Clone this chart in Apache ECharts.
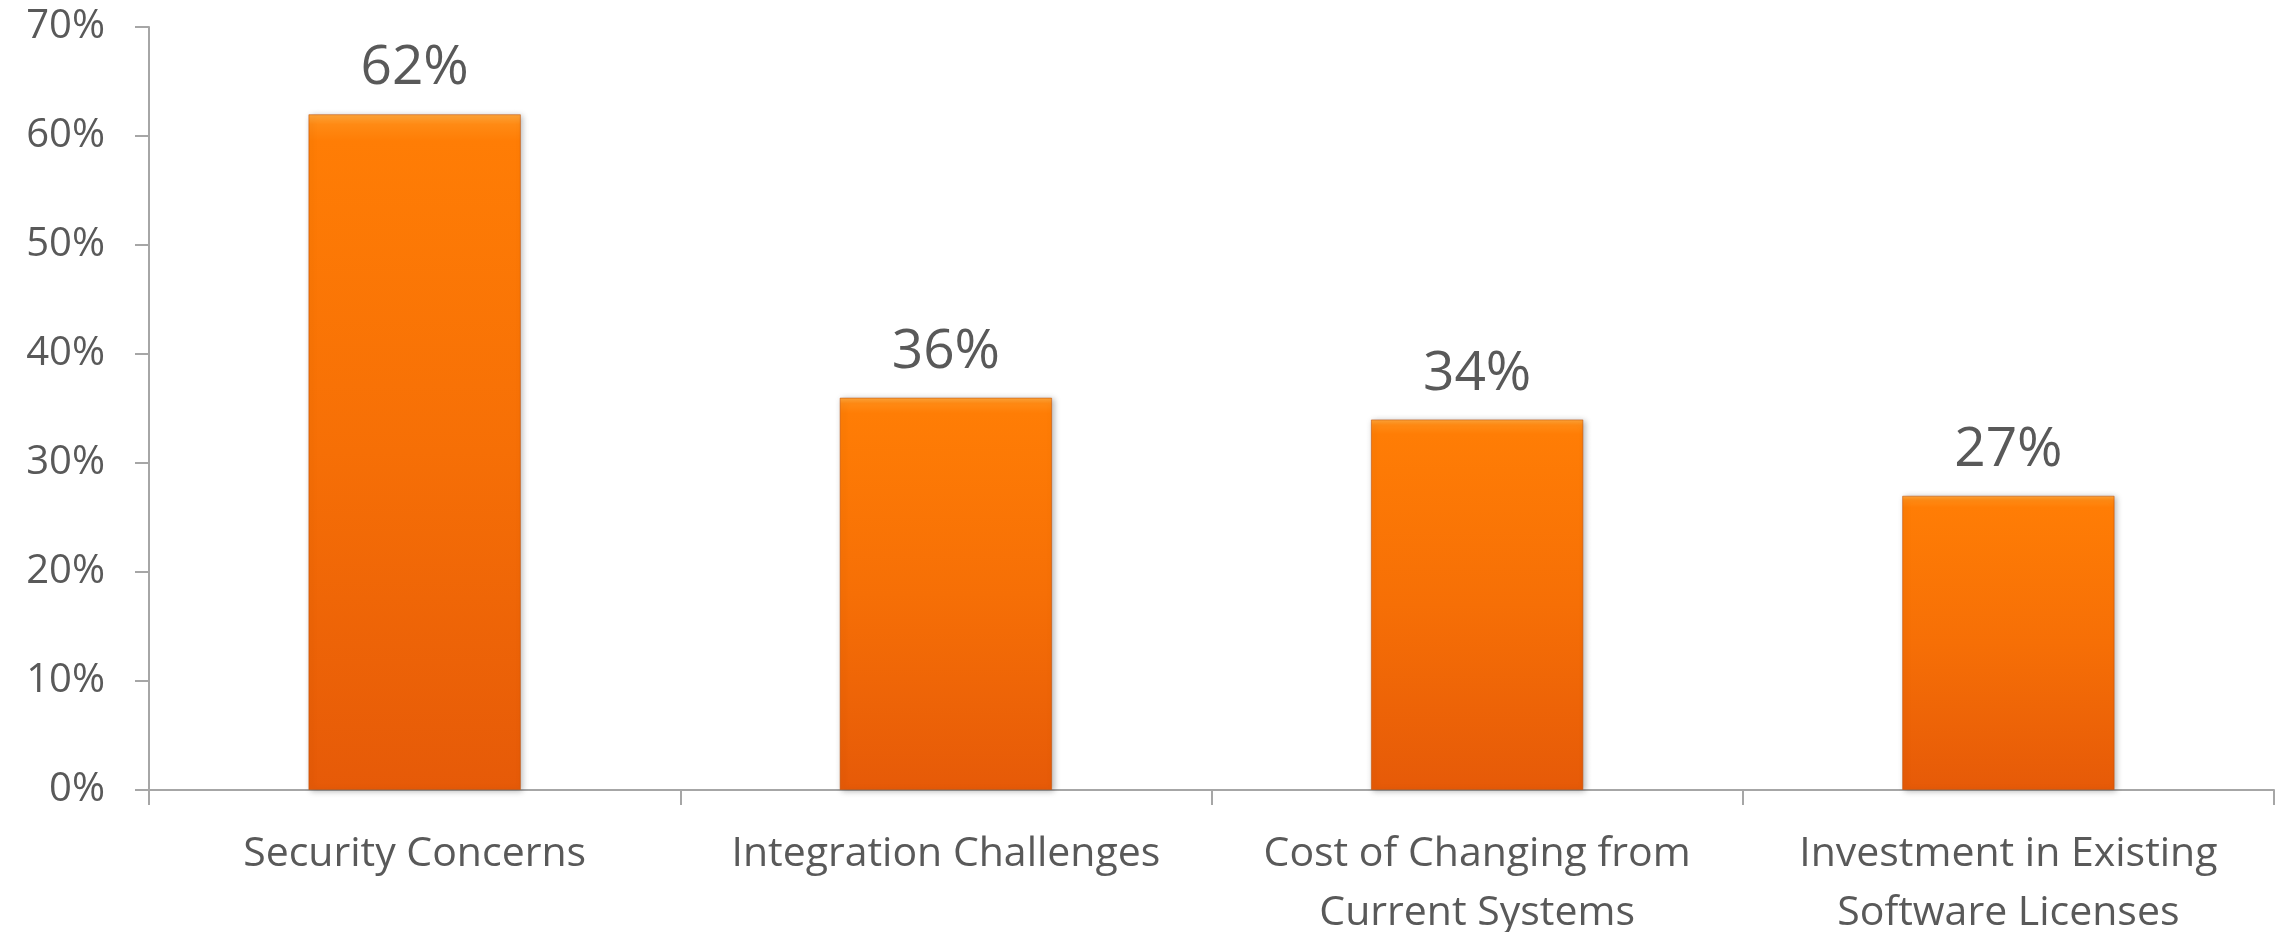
<!DOCTYPE html>
<html>
<head>
<meta charset="utf-8">
<title>Barriers to adoption</title>
<script src="https://cdn.jsdelivr.net/npm/echarts@6/dist/echarts.min.js"></script>
<style>
  html, body { margin: 0; padding: 0; background: #ffffff; }
  #chart { width: 2277px; height: 932px; }
</style>
</head>
<body>
<div id="chart"></div>
<script>
// Categories (line breaks as shown under the axis)
const categories = [
  'Security Concerns',
  'Integration Challenges',
  'Cost of Changing from\nCurrent Systems',
  'Investment in Existing\nSoftware Licenses'
];
// Share of respondents, in percent
const values = [62, 36, 34, 27];
// Value axis range
const yMin = 0;
const yMax = 70;
const yStep = 10;

const textGray = '#595959';
const axisGray = '#a6a6a6';
const fontFamily = '"Open Sans", "Noto Sans", sans-serif';

const chart = echarts.init(document.getElementById('chart'), null, { renderer: 'canvas' });

chart.setOption({
  backgroundColor: '#ffffff',
  animation: false,
  grid: {
    left: 149, right: 3, top: 27, bottom: 142,
    containLabel: false,
    outerBoundsMode: 'none'
  },
  xAxis: {
    type: 'category',
    data: categories,
    boundaryGap: true,
    axisLine: { show: true, lineStyle: { color: axisGray, width: 2 } },
    axisTick: { show: true, alignWithLabel: false, length: 15, lineStyle: { color: axisGray, width: 2 } },
    axisLabel: {
      color: textGray,
      fontFamily: fontFamily,
      fontSize: 41,
      lineHeight: 59,
      margin: 35,
      interval: 0
    },
    splitLine: { show: false }
  },
  yAxis: {
    type: 'value',
    min: yMin,
    max: yMax,
    interval: yStep,
    axisLine: { show: true, lineStyle: { color: axisGray, width: 2 } },
    axisTick: { show: true, length: 14, lineStyle: { color: axisGray, width: 2 } },
    axisLabel: {
      color: textGray,
      fontFamily: fontFamily,
      fontSize: 40,
      margin: 44,
      formatter: '{value}%'
    },
    splitLine: { show: false }
  },
  series: [{
    type: 'bar',
    data: values,
    barWidth: '40%',
    itemStyle: {
      color: new echarts.graphic.LinearGradient(0, 0, 0, 1, [
        { offset: 0, color: '#ffa63a' },
        { offset: 0.015, color: '#ff8a14' },
        { offset: 0.04, color: '#ff7d05' },
        { offset: 0.5, color: '#f66f06' },
        { offset: 1, color: '#e65a08' }
      ]),
      borderColor: 'rgba(190,80,10,0.55)',
      borderWidth: 1,
      shadowColor: 'rgba(0,0,0,0.28)',
      shadowBlur: 6,
      shadowOffsetX: 2,
      shadowOffsetY: 1
    },
    label: {
      show: true,
      position: 'top',
      distance: 18,
      color: textGray,
      fontFamily: fontFamily,
      fontSize: 55,
      formatter: '{c}%'
    }
  }]
});
</script>
</body>
</html>
